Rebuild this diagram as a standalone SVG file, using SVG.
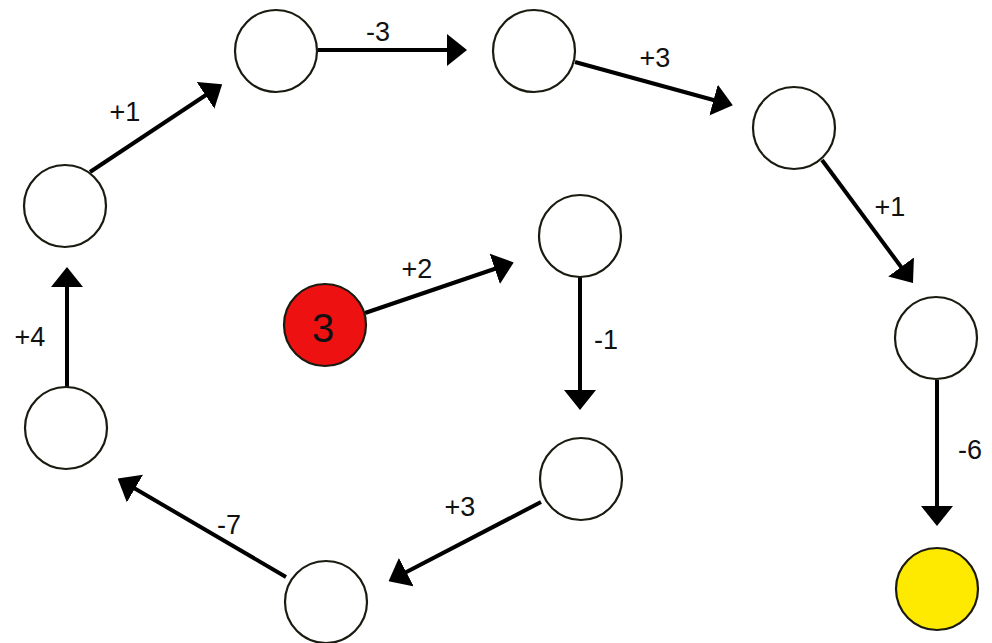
<svg xmlns="http://www.w3.org/2000/svg" width="992" height="643" viewBox="0 0 992 643">
<style>
.node{fill:#fff;stroke:#1a1a10;stroke-width:2.2}
.edge{stroke:#000;stroke-width:4;fill:none;marker-end:url(#ah)}
.lbl{font-family:"Liberation Sans",Arial,sans-serif;font-size:27px;fill:#111;text-anchor:middle;dominant-baseline:central}
</style>
<defs>
<marker id="ah" markerUnits="userSpaceOnUse" markerWidth="20" markerHeight="32" viewBox="0 0 20 32" refX="15" refY="16" orient="auto">
<path d="M0,0 L20,16 L0,32 z" fill="#000"/>
</marker>
</defs>
<rect width="992" height="643" fill="#fff"/>
<g id="connectors">
<line class="edge" x1="365" y1="313" x2="509" y2="264"/>
<line class="edge" x1="580" y1="277" x2="580" y2="405"/>
<line class="edge" x1="541" y1="502" x2="393" y2="579"/>
<line class="edge" x1="286" y1="577" x2="122" y2="481"/>
<line class="edge" x1="67" y1="387" x2="67" y2="272"/>
<line class="edge" x1="90" y1="172" x2="218" y2="87"/>
<line class="edge" x1="318" y1="50" x2="462" y2="50"/>
<line class="edge" x1="575" y1="62" x2="728" y2="104"/>
<line class="edge" x1="822" y1="160" x2="910" y2="279"/>
<line class="edge" x1="937" y1="380" x2="937" y2="521"/>
<text class="lbl" x="417" y="269">+2</text>
<text class="lbl" x="606" y="340">-1</text>
<text class="lbl" x="460" y="507">+3</text>
<text class="lbl" x="229" y="525">-7</text>
<text class="lbl" x="30" y="337">+4</text>
<text class="lbl" x="125" y="112">+1</text>
<text class="lbl" x="378" y="32">-3</text>
<text class="lbl" x="655" y="58">+3</text>
<text class="lbl" x="890" y="207">+1</text>
<text class="lbl" x="970" y="450">-6</text>
</g>
<g id="start"><circle cx="325" cy="325" r="41" fill="#ee1111" stroke="#1a1a10" stroke-width="2.2"/><text class="lbl" x="323" y="328" style="font-size:40px">3</text></g>
<g id="n1"><circle class="node" cx="580" cy="236" r="41"/></g>
<g id="n2"><circle class="node" cx="581" cy="479" r="41"/></g>
<g id="n3"><circle class="node" cx="326" cy="602" r="41"/></g>
<g id="n4"><circle class="node" cx="66" cy="428" r="41"/></g>
<g id="n5"><circle class="node" cx="65" cy="206" r="41"/></g>
<g id="n6"><circle class="node" cx="276" cy="51" r="41"/></g>
<g id="n7"><circle class="node" cx="534" cy="51" r="41"/></g>
<g id="n8"><circle class="node" cx="794" cy="128" r="41"/></g>
<g id="n9"><circle class="node" cx="936" cy="338" r="41"/></g>
<g id="end"><circle cx="937" cy="589" r="41" fill="#fdea00" stroke="#1a1a10" stroke-width="2.2"/></g>
</svg>
